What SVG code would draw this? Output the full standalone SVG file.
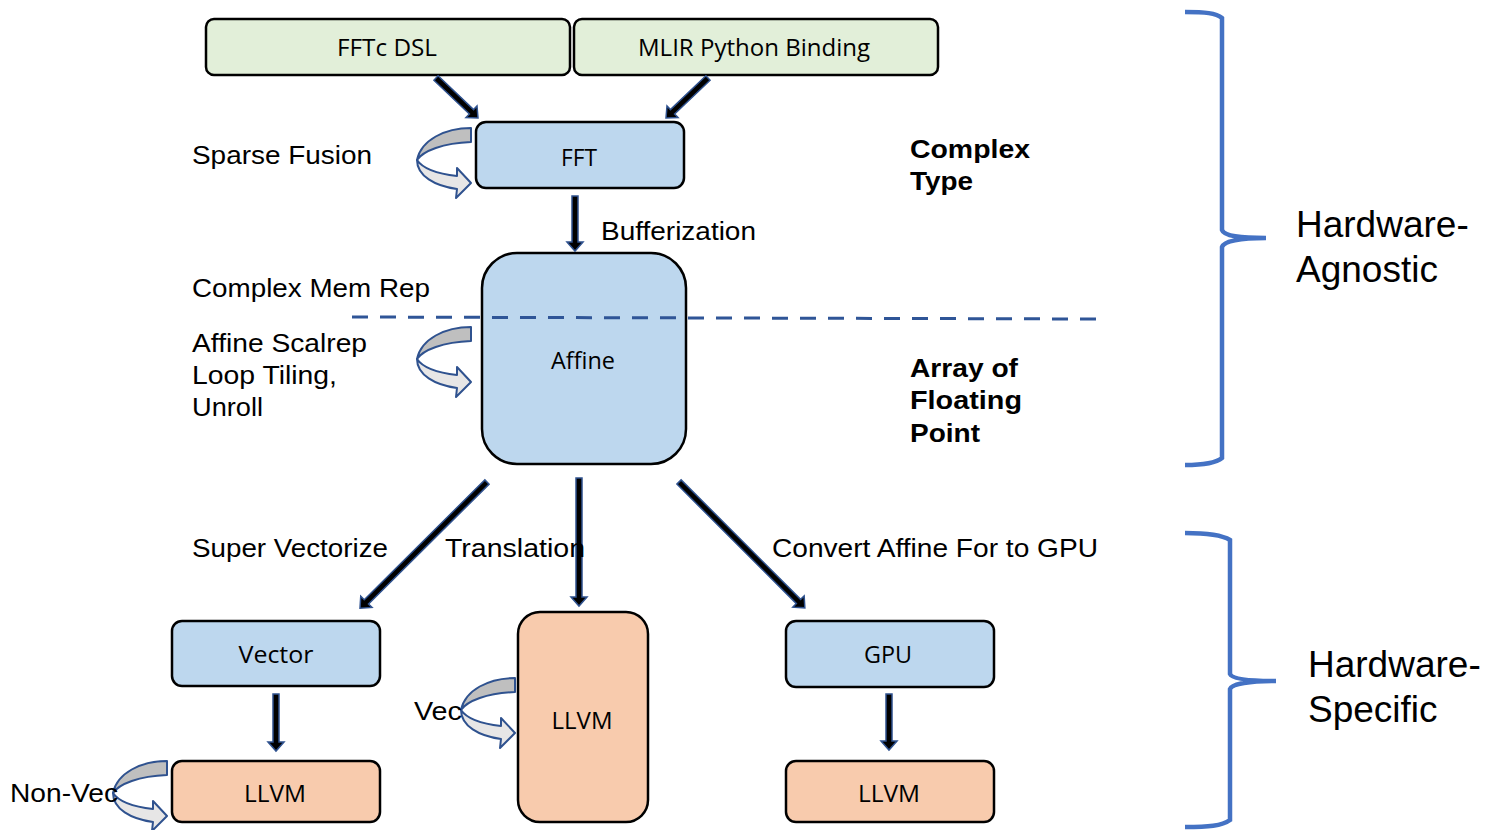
<svg xmlns="http://www.w3.org/2000/svg" width="1487" height="830" viewBox="0 0 1487 830">
<style>
.box{stroke:#000;stroke-width:2.5}
.green{fill:#E2EFD9}
.blue{fill:#BDD7EE}
.orange{fill:#F8CBAD}
.bt{font-family:"Open Sans","Noto Sans",sans-serif;font-size:23px;fill:#000;text-anchor:middle;dominant-baseline:central}
.lbl{font-family:"Liberation Sans",Arial,sans-serif;font-size:26px;fill:#000}
.bold{font-family:"Liberation Sans",Arial,sans-serif;font-size:26px;font-weight:bold;fill:#000}
.big{font-family:"Liberation Sans",Arial,sans-serif;font-size:37px;fill:#000}
.arr{fill:#000;stroke:#2F528F;stroke-width:1.5;stroke-linejoin:miter}
.brace{fill:none;stroke:#4472C4;stroke-width:4.5}
.uback{fill:#BFBFBF;stroke:#2F528F;stroke-width:2;stroke-linejoin:round}
.ufront{fill:#E7E6E6;stroke:#2F528F;stroke-width:2;stroke-linejoin:round}
</style>
<defs>
<g id="uturn">
<path class="uback" d="M54,0 C28,0 4,12 0,32 C6,23 26,15 54,14 Z"/>
<path class="ufront" d="M0,32 C0,48 18,58 40,61 L39,70 L54,55 L40,40 L40,48 C22,46 6,41 0,32 Z"/>
</g>
</defs>

<g id="node-fftc-dsl"><rect class="box green" x="206" y="19" width="364" height="56" rx="8"/><text class="bt" x="387" y="47" textLength="100" lengthAdjust="spacingAndGlyphs">FFTc DSL</text></g>
<g id="node-mlir-python"><rect class="box green" x="574" y="19" width="364" height="56" rx="8"/><text class="bt" x="754" y="47" textLength="232" lengthAdjust="spacingAndGlyphs">MLIR Python Binding</text></g>
<g id="node-fft"><rect class="box blue" x="476" y="122" width="208" height="66" rx="10"/><text class="bt" x="579" y="157" textLength="36" lengthAdjust="spacingAndGlyphs">FFT</text></g>
<g id="node-affine"><rect class="box blue" x="482" y="253" width="204" height="211" rx="35"/><text class="bt" x="583" y="360" textLength="64" lengthAdjust="spacingAndGlyphs">Affine</text></g>
<g id="node-vector"><rect class="box blue" x="172" y="621" width="208" height="65" rx="10"/><text class="bt" x="276" y="654" textLength="75" lengthAdjust="spacingAndGlyphs">Vector</text></g>
<g id="node-llvm-center"><rect class="box orange" x="518" y="612" width="130" height="210" rx="22"/><text class="bt" x="582" y="720" textLength="61" lengthAdjust="spacingAndGlyphs">LLVM</text></g>
<g id="node-gpu"><rect class="box blue" x="786" y="621" width="208" height="66" rx="10"/><text class="bt" x="888" y="654" textLength="48" lengthAdjust="spacingAndGlyphs">GPU</text></g>
<g id="node-llvm-left"><rect class="box orange" x="172" y="761" width="208" height="61" rx="10"/><text class="bt" x="275" y="793" textLength="62" lengthAdjust="spacingAndGlyphs">LLVM</text></g>
<g id="node-llvm-right"><rect class="box orange" x="786" y="761" width="208" height="61" rx="10"/><text class="bt" x="889" y="793" textLength="62" lengthAdjust="spacingAndGlyphs">LLVM</text></g>

<line x1="352" y1="317" x2="1098" y2="319" stroke="#2F5597" stroke-width="3" stroke-dasharray="16 12"/>

<g id="connectors">
<polygon class="arr" transform="translate(436,78) rotate(43.6)" points="0,-3 49,-3 49,-8 58,0 49,8 49,3 0,3"/>
<polygon class="arr" transform="translate(708,78) rotate(136.4)" points="0,-3 49,-3 49,-8 58,0 49,8 49,3 0,3"/>
<polygon class="arr" transform="translate(575,196) rotate(90)" points="0,-3 46,-3 46,-8 55,0 46,8 46,3 0,3"/>
<polygon class="arr" transform="translate(487,482) rotate(135.2)" points="0,-3 170,-3 170,-8 179,0 170,8 170,3 0,3"/>
<polygon class="arr" transform="translate(579,478) rotate(90)" points="0,-3 119,-3 119,-8 128,0 119,8 119,3 0,3"/>
<polygon class="arr" transform="translate(679,482) rotate(45)" points="0,-3 169,-3 169,-8 178,0 169,8 169,3 0,3"/>
<polygon class="arr" transform="translate(276,694) rotate(90)" points="0,-3 48,-3 48,-8 57,0 48,8 48,3 0,3"/>
<polygon class="arr" transform="translate(889,694) rotate(90)" points="0,-3 47,-3 47,-8 56,0 47,8 47,3 0,3"/>
<use href="#uturn" transform="translate(417,128)"/>
<use href="#uturn" transform="translate(417,327)"/>
<use href="#uturn" transform="translate(461,678)"/>
<use href="#uturn" transform="translate(113,761)"/>
</g>

<g id="labels">
<text class="lbl" x="192" y="164" textLength="180" lengthAdjust="spacingAndGlyphs">Sparse Fusion</text>
<text class="lbl" x="601" y="240" textLength="155" lengthAdjust="spacingAndGlyphs">Bufferization</text>
<text class="lbl" x="192" y="297" textLength="238" lengthAdjust="spacingAndGlyphs">Complex Mem Rep</text>
<text class="lbl" x="192" y="352" textLength="175" lengthAdjust="spacingAndGlyphs">Affine Scalrep</text>
<text class="lbl" x="192" y="384" textLength="145" lengthAdjust="spacingAndGlyphs">Loop Tiling,</text>
<text class="lbl" x="192" y="416" textLength="71" lengthAdjust="spacingAndGlyphs">Unroll</text>
<text class="lbl" x="192" y="557" textLength="196" lengthAdjust="spacingAndGlyphs">Super Vectorize</text>
<text class="lbl" x="445" y="557" textLength="140" lengthAdjust="spacingAndGlyphs">Translation</text>
<text class="lbl" x="772" y="557" textLength="326" lengthAdjust="spacingAndGlyphs">Convert Affine For to GPU</text>
<text class="lbl" x="414" y="720" textLength="48" lengthAdjust="spacingAndGlyphs">Vec</text>
<text class="lbl" x="10" y="802" textLength="108" lengthAdjust="spacingAndGlyphs">Non-Vec</text>
<text class="bold" x="910" y="158" textLength="120" lengthAdjust="spacingAndGlyphs">Complex</text>
<text class="bold" x="910" y="190" textLength="63" lengthAdjust="spacingAndGlyphs">Type</text>
<text class="bold" x="910" y="377" textLength="108" lengthAdjust="spacingAndGlyphs">Array of</text>
<text class="bold" x="910" y="409" textLength="112" lengthAdjust="spacingAndGlyphs">Floating</text>
<text class="bold" x="910" y="442" textLength="70" lengthAdjust="spacingAndGlyphs">Point</text>
<text class="big" x="1296" y="237">Hardware-</text>
<text class="big" x="1296" y="282">Agnostic</text>
<text class="big" x="1308" y="677">Hardware-</text>
<text class="big" x="1308" y="722">Specific</text>
</g>

<g id="braces">
<path class="brace" d="M1185,12 C1205,12 1216,13 1222,18 L1222,230 C1224,236 1240,238 1266,238 C1240,238 1224,241 1222,247 L1222,458 C1216,463 1205,465 1185,465"/>
<path class="brace" d="M1185,533 C1208,533 1222,535 1230,540 L1230,674 C1232,679 1250,681 1276,681 C1250,681 1232,684 1230,689 L1230,820 C1222,826 1208,827 1185,827"/>
</g>
</svg>
